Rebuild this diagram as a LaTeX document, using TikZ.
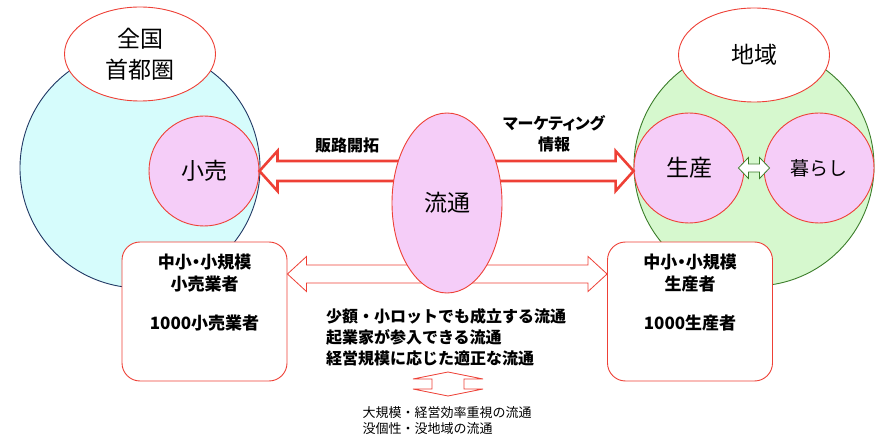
\documentclass[tikz,border=0pt]{standalone}
\usepackage{fontspec}
\setmainfont{Noto Sans CJK JP}
\newfontfamily\paltjp{Noto Sans CJK JP}[RawFeature=+palt]
\usepackage{tikz}
\usetikzlibrary{
  calc,
  positioning,
  shapes.geometric,
}
\definecolor{redline}{HTML}{EE4036}
\definecolor{navyline}{HTML}{203864}
\definecolor{greenline}{HTML}{3B7D2A}
\definecolor{cyanfill}{HTML}{D6FCFC}
\definecolor{greenfill}{HTML}{D6F8CE}
\definecolor{pinkfill}{HTML}{F5CDF8}

% horizontal double block arrow: [style]{left tip}{right tip}{half shaft}{half head}{head length}
\newcommand\dblarrow[6][]{%
  \draw[#1] let \p1=(#2), \p2=(#3) in
    (\x1,\y1) -- ({\x1+#6},{\y1+#5}) -- ({\x1+#6},{\y1+#4})
    -- ({\x2-#6},{\y1+#4}) -- ({\x2-#6},{\y1+#5}) -- (\x2,\y1)
    -- ({\x2-#6},{\y1-#5}) -- ({\x2-#6},{\y1-#4})
    -- ({\x1+#6},{\y1-#4}) -- ({\x1+#6},{\y1-#5}) -- cycle;}

\begin{document}
\begin{tikzpicture}[x=1pt, y=-1pt,
  world/.style={circle, draw, line width=0.9pt, minimum size=240pt, inner sep=0pt},
  place/.style={ellipse, draw=redline, fill=white, line width=0.9pt, inner sep=0pt,
    minimum width=151pt, minimum height=94pt, align=center, font=\fontsize{23}{31}\selectfont},
  role/.style={circle, draw=redline, fill=pinkfill, line width=0.9pt, minimum size=110pt,
    inner sep=0pt, font=\fontsize{23}{28}\selectfont},
  party/.style={draw=redline, fill=white, rounded corners=18pt, line width=0.9pt,
    minimum width=165pt, minimum height=139pt},
  note/.style={align=center, font=\bfseries\fontsize{16}{21}\selectfont},
  partytext/.style={align=center, font=\paltjp\bfseries\fontsize{17}{22}\selectfont},
  bigarrow/.style={draw=redline, fill=white, line width=2.6pt},
  thinarrow/.style={draw=redline, fill=white, line width=0.8pt},
  greenarrow/.style={draw=greenline, fill=white, line width=0.8pt}
]
\useasboundingbox (0,0) rectangle (878,438);

\node[world, draw=navyline, fill=cyanfill] (city) at (140,168) {};
\node[world, draw=greenline, fill=greenfill] (local) at (754,166) {};
\node[place] (zenkoku) at (140,54) {全国\\首都圏};
\node[place] (chiiki) at (754,55) {地域};

\node[role] (kouri) at (204,171) {小売};
\node[role] (seisan) at (689,168) {生産};
\node[role, font=\fontsize{19}{24}\selectfont] (kurashi) at (819,168) {暮らし};
\dblarrow[greenarrow]{$(seisan.east)+(-6,0)$}{$(kurashi.west)+(6,0)$}{4pt}{10.5pt}{10pt}

\node[party] (lbox) at (204.5,311.5) {};
\node[party] (rbox) at (690,311.5) {};
\node[partytext, below=9pt of lbox.north] (lboxtxt) {中小・小規模\\小売業者\\[17pt]1000小売業者};
\node[partytext, below=9pt of rbox.north] (rboxtxt) {中小・小規模\\生産者\\[17pt]1000生産者};

\dblarrow[bigarrow]{kouri.east}{seisan.west}{10pt}{20pt}{18pt}
\coordinate (lowflow) at (447,274);
\dblarrow[thinarrow]{lbox.east |- lowflow}{rbox.west |- lowflow}{9pt}{17.5pt}{19pt}

\node[ellipse, draw=redline, fill=pinkfill, line width=0.9pt, inner sep=0pt,
  minimum width=110pt, minimum height=180pt, font=\fontsize{23}{28}\selectfont] (ryutsu) at (447,203) {流通};

\node[note] (hanro) at (347,145) {販路開拓};
\node[note, font=\paltjp\bfseries\fontsize{16}{21}\selectfont] (mkt) at (554,134) {マーケティング\\情報};

\node[note, align=left] (small) at (446,337) {少額・小ロットでも成立する流通\\起業家が参入できる流通\\経営規模に応じた適正な流通};
\coordinate (updown) at (448,372);
\draw[thinarrow] (updown) -- ++(35,7) -- ++(-19,0) -- ++(0,10) -- ++(19,0) -- ++(-35,7)
  -- ++(-35,-7) -- ++(19,0) -- ++(0,-10) -- ++(-19,0) -- cycle;
\node[align=left, font=\fontsize{13}{15.5}\selectfont] (large) at (447,420.5) {大規模・経営効率重視の流通\\没個性・没地域の流通};
\end{tikzpicture}
\end{document}
